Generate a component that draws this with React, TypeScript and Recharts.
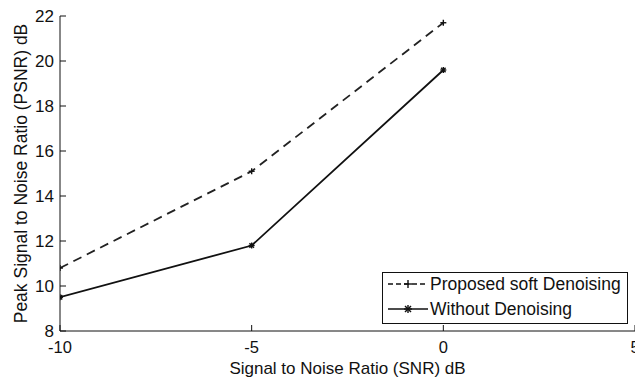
import React from "react";
import { LineChart, Line, XAxis, YAxis } from "recharts";

// values
const snr = [-10, -5, 0];
const proposed = [10.8, 15.1, 21.7];
const without = [9.5, 11.8, 19.6];

const xTicks = [-10, -5, 0, 5];
const yTicks = [8, 10, 12, 14, 16, 18, 20, 22];

const seriesNames = ["Proposed soft Denoising", "Without Denoising"];

const rows = snr.map((x, i) => ({ snr: x, proposed: proposed[i], without: without[i] }));

const FONT = "'Liberation Sans', Arial, Helvetica, sans-serif";
const INK = "#111";

function PlusMark({ cx, cy, r = 4 }: any) {
  if (cx == null || cy == null) return null;
  return (
    <g stroke={INK} strokeWidth={1.4}>
      <line x1={cx - r} y1={cy} x2={cx + r} y2={cy} />
      <line x1={cx} y1={cy - r} x2={cx} y2={cy + r} />
    </g>
  );
}

function StarMark({ cx, cy, r = 4 }: any) {
  if (cx == null || cy == null) return null;
  const d = r * 0.75;
  return (
    <g stroke={INK} strokeWidth={1.4}>
      <line x1={cx - r} y1={cy} x2={cx + r} y2={cy} />
      <line x1={cx} y1={cy - r} x2={cx} y2={cy + r} />
      <line x1={cx - d} y1={cy - d} x2={cx + d} y2={cy + d} />
      <line x1={cx - d} y1={cy + d} x2={cx + d} y2={cy - d} />
    </g>
  );
}

// ticks drawn inward, MATLAB style
function BottomTick({ x, y, payload }: any) {
  return (
    <g>
      <line x1={x} y1={y} x2={x} y2={y - 6} stroke={INK} />
      <text x={x} y={y + 22} textAnchor="middle" fontSize={16.5} fontFamily={FONT} fill={INK}>
        {payload.value}
      </text>
    </g>
  );
}

function TopTick({ x, y }: any) {
  return <line x1={x} y1={y} x2={x} y2={y + 6} stroke={INK} />;
}

function LeftTick({ x, y, payload }: any) {
  return (
    <g>
      <line x1={x} y1={y} x2={x + 6} y2={y} stroke={INK} />
      <text x={x - 6} y={y + 6} textAnchor="end" fontSize={17} fontFamily={FONT} fill={INK}>
        {payload.value}
      </text>
    </g>
  );
}

function RightTick({ x, y }: any) {
  return <line x1={x} y1={y} x2={x - 6} y2={y} stroke={INK} />;
}

function XTitle({ viewBox }: any) {
  return (
    <text x={viewBox.x + viewBox.width / 2} y={374} textAnchor="middle" fontSize={17} fontFamily={FONT} fill={INK}>
      Signal to Noise Ratio (SNR) dB
    </text>
  );
}

function YTitle({ viewBox }: any) {
  const cy = viewBox.y + viewBox.height / 2;
  return (
    <text x={27} y={cy} transform={`rotate(-90, 27, ${cy})`} textAnchor="middle" fontSize={17.5} fontFamily={FONT} fill={INK}>
      Peak Signal to Noise Ratio (PSNR) dB
    </text>
  );
}

function LegendBox() {
  return (
    <div
      style={{
        position: "absolute",
        left: 382,
        top: 272,
        width: 246,
        height: 52,
        boxSizing: "border-box",
        border: `1px solid ${INK}`,
        background: "#fff",
        fontFamily: FONT,
        fontSize: 17.5,
        color: INK,
      }}
    >
      {seriesNames.map((name, i) => (
        <div key={name} style={{ position: "absolute", left: 4, top: i === 0 ? 0 : 25, height: 22, display: "flex", alignItems: "center" }}>
          <svg width={42} height={22} style={{ display: "block" }}>
            <line x1={1} y1={11} x2={41} y2={11} stroke={INK} strokeWidth={1.5} strokeDasharray={i === 0 ? "5 3" : undefined} />
            {i === 0 ? <PlusMark cx={21} cy={11} /> : <StarMark cx={21} cy={11} />}
          </svg>
          <span style={{ marginLeft: 1, whiteSpace: "nowrap", lineHeight: "22px" }}>{name}</span>
        </div>
      ))}
    </div>
  );
}

export default function App() {
  return (
    <div style={{ position: "absolute", left: 0, top: 0, width: 635, height: 380, overflow: "hidden", background: "#fff" }}>
      <LineChart width={640} height={380} data={rows} margin={{ top: 16, right: 5, bottom: 0, left: 0 }}>
        <XAxis
          dataKey="snr"
          type="number"
          domain={[-10, 5]}
          ticks={xTicks}
          allowDataOverflow
          height={49}
          tickSize={0}
          tickMargin={0}
          tickLine={false}
          axisLine={{ stroke: INK }}
          tick={<BottomTick />}
          label={<XTitle />}
        />
        <XAxis
          xAxisId="top"
          orientation="top"
          dataKey="snr"
          type="number"
          domain={[-10, 5]}
          ticks={xTicks}
          allowDataOverflow
          height={0}
          tickSize={0}
          tickMargin={0}
          tickLine={false}
          axisLine={{ stroke: INK }}
          tick={<TopTick />}
        />
        <YAxis
          type="number"
          domain={[8, 22]}
          ticks={yTicks}
          allowDataOverflow
          width={60}
          tickSize={0}
          tickMargin={0}
          tickLine={false}
          axisLine={{ stroke: INK }}
          tick={<LeftTick />}
          label={<YTitle />}
        />
        <YAxis
          yAxisId="right"
          orientation="right"
          type="number"
          domain={[8, 22]}
          ticks={yTicks}
          allowDataOverflow
          width={0}
          tickSize={0}
          tickMargin={0}
          tickLine={false}
          axisLine={{ stroke: INK }}
          tick={<RightTick />}
        />
        <Line
          dataKey="proposed"
          name={seriesNames[0]}
          stroke="#222"
          strokeWidth={1.8}
          strokeDasharray="9 6"
          dot={<PlusMark />}
          activeDot={false}
          isAnimationActive={false}
        />
        <Line
          dataKey="without"
          name={seriesNames[1]}
          stroke={INK}
          strokeWidth={1.8}
          dot={<StarMark />}
          activeDot={false}
          isAnimationActive={false}
        />
      </LineChart>
      <LegendBox />
    </div>
  );
}
